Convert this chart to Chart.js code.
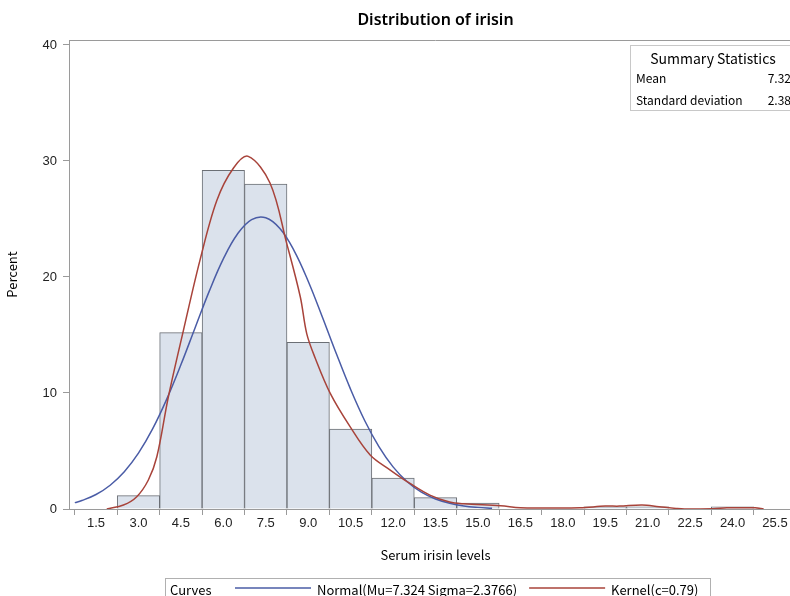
<!DOCTYPE html>
<html>
<head>
<meta charset="utf-8">
<script src="https://cdn.jsdelivr.net/npm/chart.js@4"></script>
<style>
  html, body { margin: 0; padding: 0; background: #fff; overflow: hidden; }
  #wrap { width: 871px; height: 596px; }
</style>
</head>
<body>
<div id="wrap"><canvas id="chart" width="871" height="596"></canvas></div>
<script>
// histogram bins (midpoints) and percent per bin
const binMids = [3.0, 4.5, 6.0, 7.5, 9.0, 10.5, 12.0, 13.5, 15.0, 19.5, 21.0, 24.0];
const binPercents = [1.15, 15.2, 29.2, 28.0, 14.37, 6.9, 2.67, 0.98, 0.5, 0.19, 0.19, 0.19];

// normal curve
const normalX = [0.75, 1.0, 1.5, 2.0, 2.5, 3.0, 3.5, 4.0, 4.5, 5.0, 5.5, 6.0, 6.5, 7.0, 7.5, 8.0,
                 8.5, 9.0, 9.5, 10.0, 10.5, 11.0, 11.5, 12.0, 12.5, 13.0, 13.5, 14.0, 14.5, 15.0, 15.5];
const normalY = [0.55, 0.73, 1.25, 2.05, 3.21, 4.81, 6.9, 9.47, 12.43, 15.61, 18.76, 21.56, 23.71, 24.95, 25.11, 24.18,
                 22.28, 19.64, 16.56, 13.36, 10.31, 7.61, 5.38, 3.63, 2.35, 1.45, 0.86, 0.49, 0.26, 0.14, 0.07];

// kernel density curve
const kernelX = [1.88, 2.47, 2.94, 3.35, 3.65, 4.06, 4.59, 5.18, 5.77, 6.36, 6.88, 7.65, 8.24, 8.72,
                 8.95, 9.25, 9.78, 10.48, 11.19, 11.9, 12.6, 13.3, 14.0, 14.5, 15.8, 16.5, 17.5, 18.6, 19.5,
                 20.0, 20.8, 21.4, 22.0, 22.3, 23.3, 23.8, 24.8, 25.1];
const kernelY = [0, 0.34, 1.06, 2.5, 4.5, 9.7, 15.4, 21.5, 26.6, 29.4, 30.4, 28.1, 22.9, 18.3,
                 15.1, 13.0, 9.97, 7.1, 4.66, 3.36, 2.2, 1.2, 0.6, 0.45, 0.28, 0.1, 0.08, 0.1, 0.25,
                 0.25, 0.35, 0.2, 0.05, 0, 0.02, 0.1, 0.1, 0];

const xTicks = [1.5, 3.0, 4.5, 6.0, 7.5, 9.0, 10.5, 12.0, 13.5, 15.0, 16.5, 18.0, 19.5, 21.0, 22.5, 24.0, 25.5];
const yTicks = [0, 10, 20, 30, 40];

const statLabels = ['Mean', 'Standard deviation'];
const statValues = ['7.32', '2.38'];

const FONT = "'Noto Sans CJK JP', 'DejaVu Sans', sans-serif";
const TICKFONT = "'Liberation Sans Narrow', 'Liberation Sans', sans-serif";
const AXIS = '#9a9a9a';

const toPts = (xs, ys) => xs.map((x, i) => ({ x: x, y: ys[i] }));

// title, frame top line, summary table and bottom legend
const extras = {
  id: 'extras',
  afterDraw(chart) {
    const c = chart.ctx;
    const a = chart.chartArea;
    c.save();
    c.fillStyle = '#000';
    c.font = '600 16px "Noto Sans", sans-serif';
    c.textAlign = 'center';
    c.textBaseline = 'middle';
    c.fillText('Distribution of irisin', (a.left + a.right) / 2, 20);

    c.strokeStyle = AXIS;
    c.lineWidth = 1;
    c.beginPath();
    c.moveTo(a.left, a.top + 0.5);
    c.lineTo(a.right, a.top + 0.5);
    c.lineTo(a.right + 0.5, a.bottom);
    c.stroke();

    // summary statistics box
    c.strokeStyle = '#c8c8c8';
    c.strokeRect(630.5, 45.5, 168, 65);
    c.fillStyle = '#000';
    c.font = '14px ' + FONT;
    c.textAlign = 'center';
    c.fillText('Summary Statistics', 713, 59);
    c.font = '12px ' + FONT;
    statLabels.forEach((s, i) => {
      c.textAlign = 'left';
      c.fillText(s, 636, 78 + i * 22);
      c.textAlign = 'right';
      c.fillText(statValues[i], 791, 78 + i * 22);
    });

    // legend
    c.strokeStyle = '#b0b0b0';
    c.strokeRect(165.5, 578.5, 545, 30);
    c.font = '13px ' + FONT;
    c.textAlign = 'left';
    c.fillStyle = '#000';
    c.fillText('Curves', 170, 590);
    let x = 235;
    chart.data.datasets.forEach(ds => {
      if (ds.type !== 'line') return;
      c.strokeStyle = ds.borderColor;
      c.lineWidth = 1.5;
      c.beginPath();
      c.moveTo(x, 588);
      c.lineTo(x + 76, 588);
      c.stroke();
      c.fillStyle = '#000';
      c.fillText(ds.label, x + 82, 590);
      x += 82 + c.measureText(ds.label).width + 12;
    });
    c.restore();
  }
};

new Chart(document.getElementById('chart'), {
  type: 'bar',
  data: {
    datasets: [
      {
        type: 'line',
        label: 'Normal(Mu=7.324 Sigma=2.3766)',
        data: toPts(normalX, normalY),
        borderColor: '#4a5ca6',
        borderWidth: 1.5,
        pointRadius: 0,
        tension: 0.4,
        order: 1
      },
      {
        type: 'line',
        label: 'Kernel(c=0.79)',
        data: toPts(kernelX, kernelY),
        borderColor: '#a8433a',
        borderWidth: 1.5,
        pointRadius: 0,
        tension: 0.35,
        order: 0
      },
      {
        type: 'bar',
        label: 'Percent',
        data: toPts(binMids, binPercents),
        backgroundColor: '#dbe2ec',
        borderColor: '#6b6f75',
        borderWidth: 1,
        barPercentage: 1,
        categoryPercentage: 1,
        order: 2
      }
    ]
  },
  options: {
    responsive: false,
    animation: false,
    layout: { padding: { left: 0, right: 69, top: 40, bottom: 29 } },
    plugins: {
      legend: { display: false },
      tooltip: { enabled: false },
      title: { display: false }
    },
    scales: {
      x: {
        type: 'linear',
        min: 0.545,
        max: 26.455,
        offset: false,
        afterBuildTicks: s => { s.ticks = xTicks.map(v => ({ value: v })); },
        afterFit: s => { s.height = 58; },
        grid: { display: true, drawOnChartArea: false, tickLength: 6, color: AXIS },
        border: { display: true, color: AXIS },
        ticks: {
          color: '#222',
          font: { family: TICKFONT, size: 13 },
          maxRotation: 0,
          autoSkip: false,
          padding: 1,
          callback: v => v.toFixed(1)
        },
        title: {
          display: true,
          text: 'Serum irisin levels',
          color: '#000',
          font: { family: FONT, size: 13 },
          padding: { top: 6 }
        }
      },
      y: {
        min: 0,
        max: 40.43,
        afterBuildTicks: s => { s.ticks = yTicks.map(v => ({ value: v })); },
        afterFit: s => { s.width = 69; },
        grid: { display: true, drawOnChartArea: false, tickLength: 6, color: AXIS },
        border: { display: true, color: AXIS },
        ticks: {
          color: '#222',
          font: { family: TICKFONT, size: 13 },
          padding: 6
        },
        title: {
          display: true,
          text: 'Percent',
          color: '#000',
          font: { family: FONT, size: 13 },
          padding: { bottom: 6 }
        }
      }
    }
  },
  plugins: [extras]
});
</script>
</body>
</html>
